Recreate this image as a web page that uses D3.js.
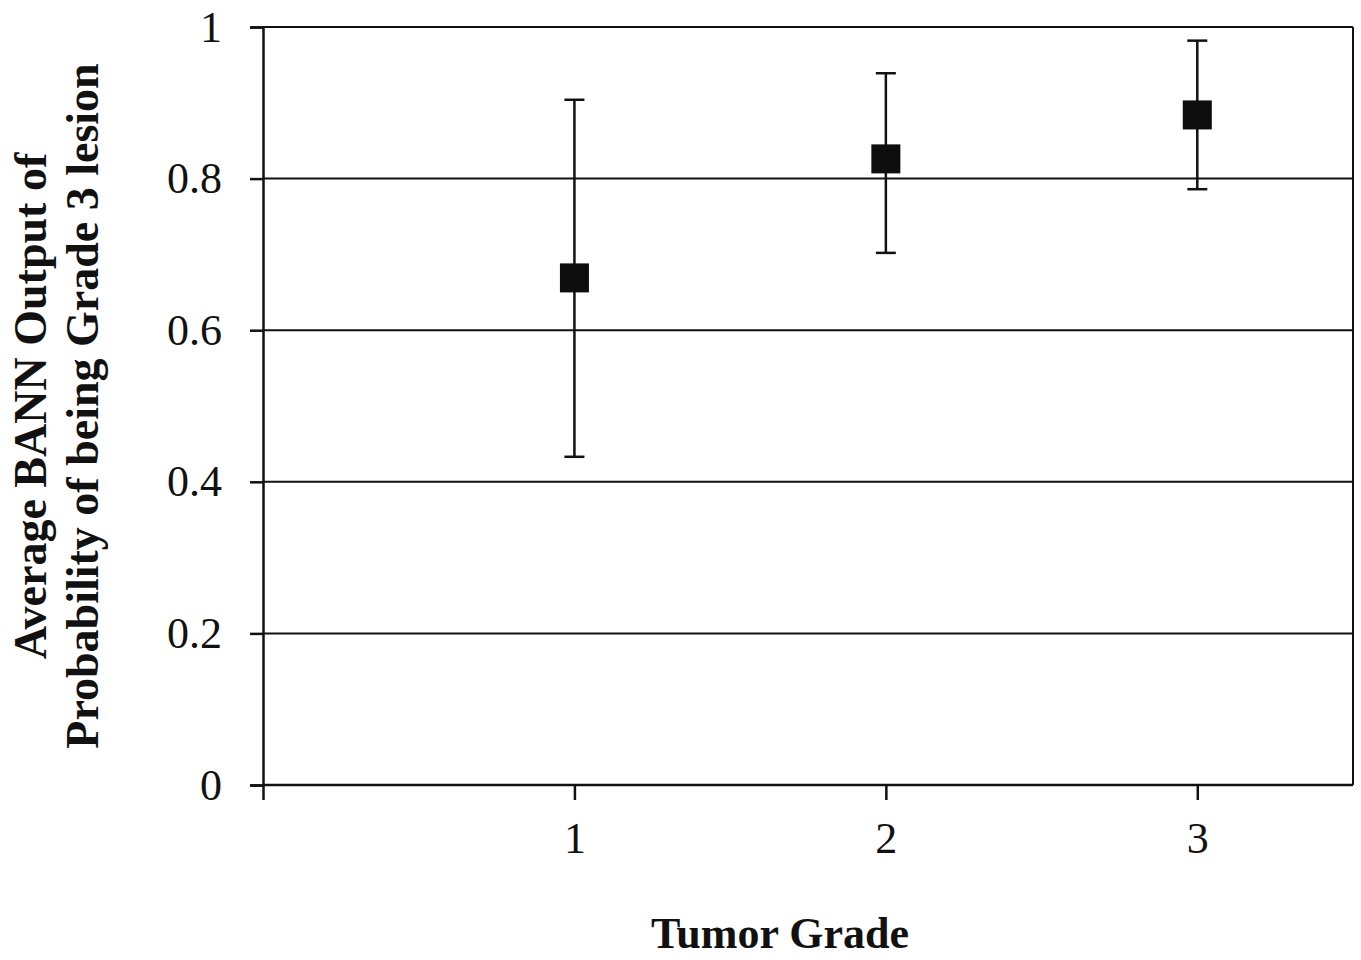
<!DOCTYPE html>
<html>
<head>
    <meta charset="UTF-8">
    <script src="https://cdn.jsdelivr.net/npm/d3@7"></script>
    <style>
        body { margin: 0; background: #ffffff; }
        svg text { font-family: "Liberation Serif", "Times New Roman", serif; fill: #111; }
    </style>
</head>
<body>
    <svg id="svg" width="1361" height="960"></svg>
    <script>
        // data
        var grades = [1, 2, 3];
        var means = [0.669, 0.826, 0.884];
        var upper = [0.904, 0.939, 0.982];
        var lower = [0.433, 0.702, 0.786];
        var yTicks = [0, 0.2, 0.4, 0.6, 0.8, 1];
        var xTicks = [0, 1, 2, 3];

        var svg = d3.select("#svg");
        var padding = {top: 27, right: 8, bottom: 175, left: 263};
        var width = 1361 - padding.left - padding.right;
        var height = 960 - padding.top - padding.bottom;

        var xScale = d3.scaleLinear().domain([0, 3.5]).range([0, width]);
        var yScale = d3.scaleLinear().domain([0, 1]).range([height, 0]);

        var g = svg.append("g").attr("transform", "translate(" + padding.left + "," + padding.top + ")");

        // gridlines
        g.selectAll(".grid").data(yTicks.slice(1)).enter()
            .append("line")
            .attr("x1", 0).attr("x2", width)
            .attr("y1", function(d){ return yScale(d); })
            .attr("y2", function(d){ return yScale(d); })
            .attr("stroke", "#111").attr("stroke-width", 2);

        // right border
        g.append("line")
            .attr("x1", width).attr("x2", width)
            .attr("y1", 0).attr("y2", height)
            .attr("stroke", "#111").attr("stroke-width", 2);

        // y axis
        var yAxis = g.append("g")
            .call(d3.axisLeft(yScale).tickValues(yTicks).tickSize(13).tickPadding(28)
                .tickFormat(function(d){ return d === 0 ? "0" : d === 1 ? "1" : d3.format(".1f")(d); }));
        yAxis.select(".domain").attr("stroke", "#111").attr("stroke-width", 2.5);
        yAxis.selectAll(".tick line").attr("stroke", "#111").attr("stroke-width", 2.5);
        yAxis.selectAll("text").style("font-size", "44px").attr("fill", "#111");

        // x axis
        var xAxis = g.append("g")
            .attr("transform", "translate(0," + height + ")")
            .call(d3.axisBottom(xScale).tickValues(xTicks).tickSize(15).tickPadding(22)
                .tickFormat(function(d){ return d === 0 ? "" : d; }));
        xAxis.select(".domain").attr("d", "M0,0H" + width).attr("stroke", "#111").attr("stroke-width", 2.5);
        xAxis.selectAll(".tick line").attr("stroke", "#111").attr("stroke-width", 2.5);
        xAxis.selectAll("text").style("font-size", "44px").attr("fill", "#111");

        // error bars
        var eb = g.selectAll(".err").data(grades).enter().append("g");
        eb.append("line")
            .attr("x1", function(d){ return xScale(d); })
            .attr("x2", function(d){ return xScale(d); })
            .attr("y1", function(d, i){ return yScale(upper[i]); })
            .attr("y2", function(d, i){ return yScale(lower[i]); })
            .attr("stroke", "#111").attr("stroke-width", 2.5);
        eb.append("line")
            .attr("x1", function(d){ return xScale(d) - 10; })
            .attr("x2", function(d){ return xScale(d) + 10; })
            .attr("y1", function(d, i){ return yScale(upper[i]); })
            .attr("y2", function(d, i){ return yScale(upper[i]); })
            .attr("stroke", "#111").attr("stroke-width", 2.5);
        eb.append("line")
            .attr("x1", function(d){ return xScale(d) - 10; })
            .attr("x2", function(d){ return xScale(d) + 10; })
            .attr("y1", function(d, i){ return yScale(lower[i]); })
            .attr("y2", function(d, i){ return yScale(lower[i]); })
            .attr("stroke", "#111").attr("stroke-width", 2.5);

        // square markers
        g.selectAll(".pt").data(grades).enter()
            .append("rect")
            .attr("x", function(d){ return xScale(d) - 14.5; })
            .attr("y", function(d, i){ return yScale(means[i]) - 14.5; })
            .attr("width", 29).attr("height", 29)
            .attr("fill", "#0d0d0d");

        // axis titles
        svg.append("text")
            .attr("x", 780).attr("y", 948)
            .attr("text-anchor", "middle")
            .style("font-size", "44px").style("font-weight", "bold")
            .text("Tumor Grade");

        var yt = svg.append("text")
            .attr("transform", "translate(0,406) rotate(-90)")
            .attr("text-anchor", "middle")
            .style("font-size", "46px").style("font-weight", "bold");
        yt.append("tspan").attr("x", 0).attr("y", 46).text("Average BANN Output of");
        yt.append("tspan").attr("x", 0).attr("y", 98).text("Probability of being Grade 3 lesion");
    </script>
</body>
</html>
